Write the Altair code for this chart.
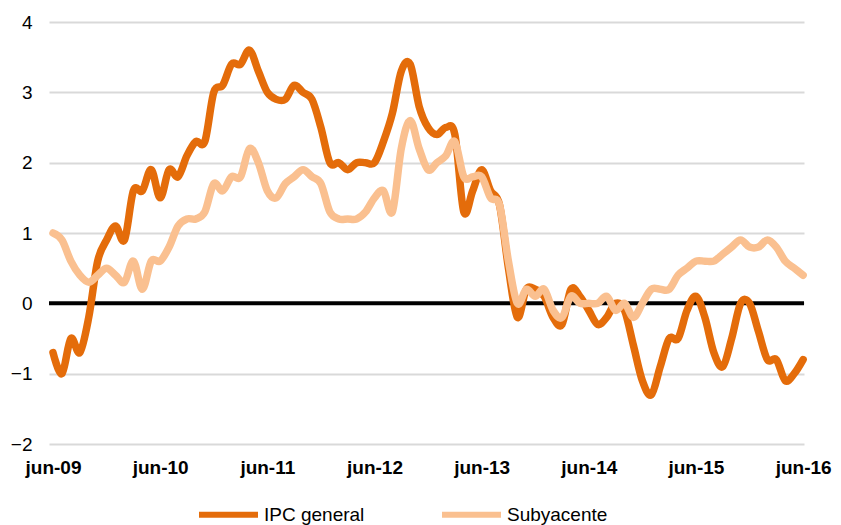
import altair as alt
import pandas as pd

tick_labels = ["jun-09", "jun-10", "jun-11", "jun-12", "jun-13", "jun-14", "jun-15", "jun-16"]
series_names = ["IPC general", "Subyacente"]
y_ticks = [-2, -1, 0, 1, 2, 3, 4]

ipc_general = [
    -0.7, -1.0, -0.5, -0.7, -0.2, 0.6, 0.9, 1.1, 0.9, 1.6, 1.6, 1.9,
    1.5, 1.9, 1.8, 2.1, 2.3, 2.3, 3.0, 3.1, 3.4, 3.4, 3.6, 3.3,
    3.0, 2.9, 2.9, 3.1, 3.0, 2.9, 2.5, 2.0, 2.0, 1.9, 2.0, 2.0,
    2.0, 2.3, 2.7, 3.3, 3.4, 2.8, 2.5, 2.4, 2.5, 2.4, 1.3, 1.6,
    1.9, 1.6, 1.4, 0.5, -0.2, 0.2, 0.2, 0.1, -0.2, -0.3, 0.2, 0.1,
    -0.1, -0.3, -0.2, 0.0, -0.1, -0.6, -1.1, -1.3, -0.9, -0.5, -0.5, -0.1,
    0.1, -0.2, -0.7, -0.9, -0.5, 0.0, 0.0, -0.4, -0.8, -0.8, -1.1, -1.0,
    -0.8,
]

subyacente = [
    1.0, 0.9, 0.6, 0.4, 0.3, 0.4, 0.5, 0.4, 0.3, 0.6, 0.2, 0.6,
    0.6, 0.8, 1.1, 1.2, 1.2, 1.3, 1.7, 1.6, 1.8, 1.8, 2.2, 2.0,
    1.6, 1.5, 1.7, 1.8, 1.9, 1.8, 1.7, 1.3, 1.2, 1.2, 1.2, 1.3,
    1.5, 1.6, 1.3, 2.2, 2.6, 2.2, 1.9, 2.0, 2.1, 2.3, 1.8, 1.8,
    1.8, 1.5, 1.4, 0.6, 0.0, 0.2, 0.1, 0.2, -0.1, -0.2, 0.1, 0.0,
    0.0, 0.0, 0.1, -0.1, 0.0, -0.2, 0.0, 0.2, 0.2, 0.2, 0.4, 0.5,
    0.6, 0.6, 0.6, 0.7, 0.8, 0.9, 0.8, 0.8, 0.9, 0.8, 0.6, 0.5,
    0.4,
]

n = len(ipc_general)
df = pd.DataFrame({
    "i": list(range(n)) * 2,
    "v": ipc_general + subyacente,
    "serie": [series_names[0]] * n + [series_names[1]] * n,
    "k": [0] * n + [1] * n,
})
df_zero = pd.DataFrame({"y": [0]})

FONT = "Liberation Sans"
tick_vals = [12 * k for k in range(len(tick_labels))]
label_expr = "[" + ",".join("'%s'" % t for t in tick_labels) + "][round(datum.value/12)]"

x_enc = alt.X(
    "i:Q",
    scale=alt.Scale(domain=[-0.45, 84.1], nice=False, zero=False),
    axis=alt.Axis(
        values=tick_vals, labelExpr=label_expr, title=None, grid=False,
        domain=False, ticks=False, labelFontWeight="bold", labelFontSize=19,
        labelFont=FONT, labelColor="#000000", labelPadding=14, labelFlush=False,
    ),
)
y_enc = alt.Y(
    "v:Q",
    scale=alt.Scale(domain=[-2, 4], nice=False),
    axis=alt.Axis(
        values=y_ticks, format="d", title=None, grid=True, gridColor="#D9D9D9", gridWidth=2,
        domain=False, ticks=False, labelFontSize=19, labelFont=FONT,
        labelColor="#000000", labelPadding=17,
    ),
)
color_enc = alt.Color(
    "serie:N",
    scale=alt.Scale(domain=series_names, range=["#E46C0A", "#FAC090"]),
    legend=alt.Legend(
        orient="none", legendX=147, legendY=460, direction="horizontal",
        title=None, symbolType="stroke", symbolSize=3481, symbolStrokeWidth=6,
        labelFontSize=19, labelFont=FONT, labelColor="#000000",
        labelOffset=3, columnPadding=65,
    ),
)

zero = alt.Chart(df_zero).mark_rule(color="black", strokeWidth=4).encode(y="y:Q")
lines = alt.Chart(df).mark_line(strokeWidth=7.5, interpolate="cardinal", strokeCap="round", strokeJoin="round").encode(
    x=x_enc, y=y_enc, color=color_enc, order="k:Q"
)

chart = alt.layer(zero, lines).properties(
    width=755, height=422,
    background="white",
    autosize=alt.AutoSizeParams(type="none"),
    padding={"left": 41, "top": 14, "right": 29, "bottom": 86},
).configure_view(stroke=None)

chart.save("out.html", embed_options={"renderer": "svg", "actions": False})
